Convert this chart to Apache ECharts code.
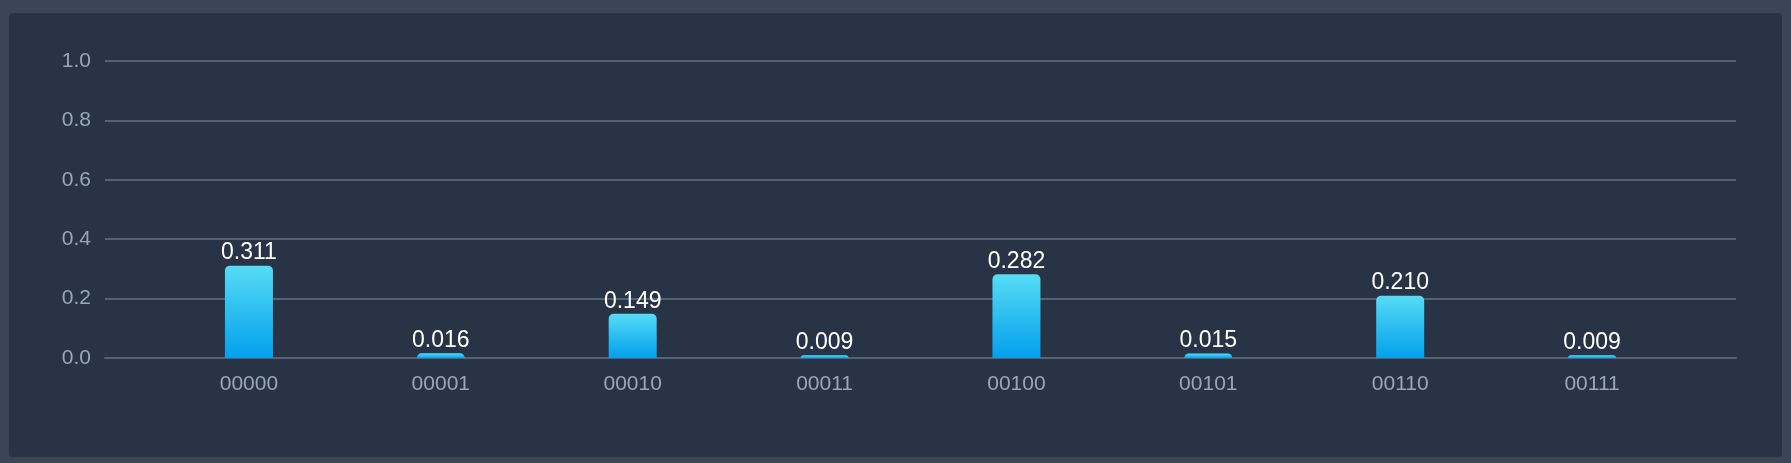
<!DOCTYPE html>
<html>
<head>
<meta charset="utf-8">
<script src="https://cdn.jsdelivr.net/npm/echarts@6/dist/echarts.min.js"></script>
<style>
  html, body { margin: 0; padding: 0; background: #3a4556; }
  #wrap { position: absolute; left: 9px; top: 13px; right: 9px; bottom: 6px; background: #283446; border-radius: 4px; }
  #chart { width: 100%; height: 100%; }
</style>
</head>
<body>
<div id="wrap"><div id="chart"></div></div>
<script>
// bitstring outcomes and their probabilities
const categories = ['00000', '00001', '00010', '00011', '00100', '00101', '00110', '00111'];
const probabilities = [0.311, 0.016, 0.149, 0.009, 0.282, 0.015, 0.210, 0.009];
const yTicks = { min: 0, max: 1, interval: 0.2 };

const font = 'Liberation Sans, Arial';
const yBase = { type: 'value', min: yTicks.min, max: yTicks.max, interval: yTicks.interval };

const chart = echarts.init(document.getElementById('chart'));
chart.setOption({
  animation: false,
  grid: [
    { left: 96, right: 46, top: 48, bottom: 99 },   // frame: y labels + gridlines
    { left: 144, right: 94, top: 48, bottom: 99 }   // bars
  ],
  xAxis: [
    {
      gridIndex: 0, type: 'category', data: [''],
      axisLine: { lineStyle: { color: '#556274', width: 2 } },
      axisTick: { show: false }, axisLabel: { show: false }
    },
    {
      gridIndex: 1, type: 'category', data: categories,
      axisLine: { show: false }, axisTick: { show: false },
      axisLabel: { color: '#97a6bb', fontSize: 21, margin: 16, fontFamily: font }
    }
  ],
  yAxis: [
    Object.assign({}, yBase, {
      gridIndex: 0,
      axisLabel: { color: '#97a6bb', fontSize: 21, margin: 14, fontFamily: font,
        formatter: v => v.toFixed(1) },
      splitLine: { lineStyle: { color: '#556274', width: 2 } }
    }),
    Object.assign({}, yBase, {
      gridIndex: 1, axisLabel: { show: false }, splitLine: { show: false }
    })
  ],
  series: [{
    type: 'bar',
    xAxisIndex: 1,
    yAxisIndex: 1,
    data: probabilities,
    barWidth: 48,
    itemStyle: {
      borderRadius: [5, 5, 0, 0],
      color: new echarts.graphic.LinearGradient(0, 0, 0, 1, [
        { offset: 0, color: '#56dcf5' },
        { offset: 1, color: '#03a0ec' }
      ])
    },
    label: {
      show: true,
      position: 'top',
      distance: 1,
      color: '#ffffff',
      fontSize: 23,
      fontFamily: font,
      formatter: p => p.value.toFixed(3)
    }
  }]
});
</script>
</body>
</html>
